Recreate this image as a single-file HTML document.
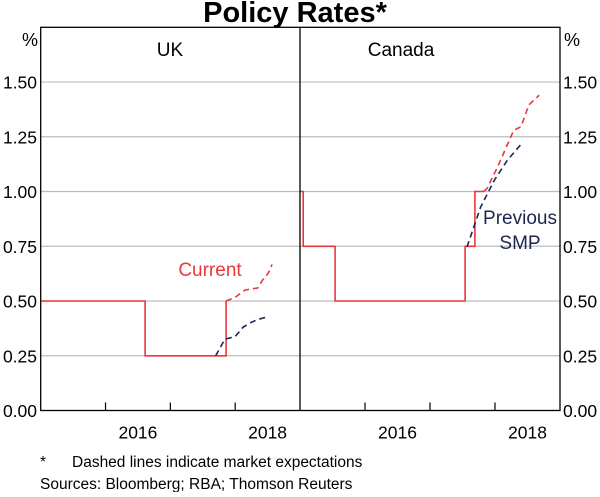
<!DOCTYPE html>
<html><head><meta charset="utf-8"><style>
body{margin:0;background:#fff;}
svg text{font-family:"Liberation Sans",Arial,sans-serif;}
</style></head><body>
<svg id="c" width="600" height="492" viewBox="0 0 600 492" xmlns="http://www.w3.org/2000/svg">
<text x="295" y="22" text-anchor="middle" font-size="29" font-weight="bold">Policy Rates*</text>
<g id="grid"></g>
<g id="marks"></g>
<rect x="40.7" y="27.3" width="519.3" height="383.2" fill="none" stroke="#000" stroke-width="1.3"/>
<line x1="300" y1="27.3" x2="300" y2="410.5" stroke="#000" stroke-width="1.3"/>
<text x="170" y="56" text-anchor="middle" font-size="19">UK</text>
<text x="401" y="56" text-anchor="middle" font-size="19">Canada</text>
<text x="30" y="46" text-anchor="middle" font-size="18">%</text>
<text x="572" y="46" text-anchor="middle" font-size="18">%</text>
<text x="210" y="276" text-anchor="middle" font-size="19" fill="#e8383d">Current</text>
<text x="520" y="224" text-anchor="middle" font-size="19" fill="#1d2550">Previous</text>
<text x="520" y="249" text-anchor="middle" font-size="19" fill="#1d2550">SMP</text>
<text x="40" y="467" font-size="15.5">*</text>
<text x="72" y="467" font-size="15.5">Dashed lines indicate market expectations</text>
<text x="40" y="489" font-size="15.5">Sources: Bloomberg; RBA; Thomson Reuters</text>
</svg>
<script>
const yTicks=[0,0.25,0.5,0.75,1.0,1.25,1.5];
const yTickLabels=["0.00","0.25","0.50","0.75","1.00","1.25","1.50"];
const xTickYears=[2016,2017,2018];
const xLabelYears=[2016,2018];
const xLabels=["2016","2018"];
const ukCashYears=[2015.0,2016.61,2016.61,2017.86,2017.86];
const ukCashValues=[0.5,0.5,0.25,0.25,0.5];
const ukCurrentYears=[2017.86,2018.0,2018.15,2018.35,2018.42,2018.51,2018.57];
const ukCurrentValues=[0.5,0.517,0.55,0.56,0.595,0.627,0.667];
const ukPrevYears=[2017.70,2017.84,2018.0,2018.12,2018.23,2018.35,2018.47];
const ukPrevValues=[0.25,0.325,0.338,0.38,0.40,0.416,0.425];
const caCashYears=[2015.0,2015.05,2015.05,2015.54,2015.54,2017.54,2017.54,2017.69,2017.69,2017.83];
const caCashValues=[1.0,1.0,0.75,0.75,0.5,0.5,0.75,0.75,1.0,1.0];
const caCurrentYears=[2017.83,2017.88,2018.04,2018.29,2018.40,2018.52,2018.68];
const caCurrentValues=[1.0,1.015,1.113,1.28,1.296,1.395,1.44];
const caPrevYears=[2017.57,2017.78,2017.99,2018.19,2018.42];
const caPrevValues=[0.747,0.93,1.052,1.143,1.222];

const NS="http://www.w3.org/2000/svg";
const Y0=410.5,YTOP=27.3;
function y(v){return Y0-(v/1.75)*(Y0-YTOP);}
const panels={uk:{x0:40.7,x1:300},ca:{x0:300,x1:560}};
function xs(p,yr){const P=panels[p];return P.x0+(yr-2015)/4*(P.x1-P.x0);}
const grid=document.getElementById('grid'),marks=document.getElementById('marks'),svg=document.getElementById('c');
function mk(tag,at,parent){const e=document.createElementNS(NS,tag);for(const k in at)e.setAttribute(k,at[k]);parent.appendChild(e);return e;}
yTicks.forEach((v,i)=>{
  if(v>0){const g=mk('line',{x1:40.7,x2:560,y1:y(v),y2:y(v),stroke:'#bdbdbd','stroke-width':1.2},grid);
  
  }
  const l=mk('text',{x:37,y:y(v)+6.5,'text-anchor':'end','font-size':17.5},svg);l.textContent=yTickLabels[i];
  
  
  const r=mk('text',{x:563,y:y(v)+6.5,'font-size':17.5},svg);r.textContent=yTickLabels[i];
  
  
});
['uk','ca'].forEach(p=>{
  xTickYears.forEach(yr=>{const t=mk('line',{x1:xs(p,yr),x2:xs(p,yr),y1:Y0,y2:Y0-8,stroke:'#000','stroke-width':1.2},svg);
    
    });
  xLabelYears.forEach((yr,i)=>{const t=mk('text',{x:xs(p,yr+0.5),y:Y0+28,'text-anchor':'middle','font-size':17.5},svg);t.textContent=xLabels[i];
    
    });
});
function line(p,yrs,vals,color,dash,name){
  const d=yrs.map((yr,i)=>(i?'L':'M')+xs(p,yr).toFixed(1)+','+y(vals[i]).toFixed(1)).join('');
  const e=mk('path',{d:d,fill:'none',stroke:color,'stroke-width':1.6},marks);
  if(dash)e.setAttribute('stroke-dasharray','6,4');
  
  
}
line('uk',ukCashYears,ukCashValues,'#e8383d',false,'uk-cash-rate-line');
line('uk',ukPrevYears,ukPrevValues,'#1d2550',true,'uk-previous-smp-line');
line('uk',ukCurrentYears,ukCurrentValues,'#e8383d',true,'uk-current-expectations-line');
line('ca',caCashYears,caCashValues,'#e8383d',false,'canada-cash-rate-line');
line('ca',caPrevYears,caPrevValues,'#1d2550',true,'canada-previous-smp-line');
line('ca',caCurrentYears,caCurrentValues,'#e8383d',true,'canada-current-expectations-line');
</script>
</body></html>
